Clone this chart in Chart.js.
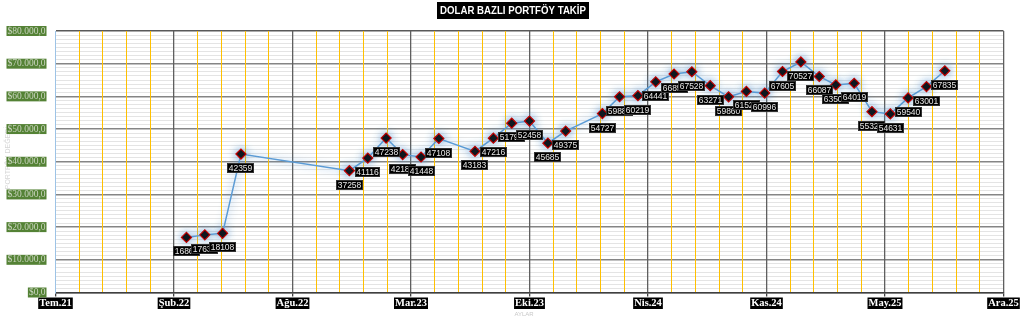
<!DOCTYPE html>
<html lang="tr">
<head>
<meta charset="utf-8">
<title>Dolar Bazlı Portföy Takip</title>
<script src="https://cdn.jsdelivr.net/npm/chart.js@4.4.1/dist/chart.umd.min.js"></script>
<style>
  html, body { margin: 0; padding: 0; background: #fff; overflow: hidden; }
</style>
</head>
<body>
<canvas id="portfolioChart" width="1021" height="318"></canvas>
<script>
// --- chart data -------------------------------------------------------
const chartTitle = 'DOLAR BAZLI PORTFÖY TAKİP';
const yAxisTitle = 'PORTFÖY DEĞERİ';
const xAxisTitle = 'AYLAR';

// one value per month (some months are missing in the sheet)
const months = [
  '2022-03', '2022-04', '2022-05', '2022-06',
  '2022-12', '2023-01', '2023-02', '2023-03', '2023-04', '2023-05',
  '2023-07', '2023-08', '2023-09', '2023-10', '2023-11', '2023-12',
  '2024-02', '2024-03', '2024-04', '2024-05', '2024-06', '2024-07',
  '2024-08', '2024-09', '2024-10', '2024-11', '2024-12',
  '2025-01', '2025-02', '2025-03', '2025-04', '2025-05', '2025-06',
  '2025-07', '2025-08', '2025-09'
];
const values = [
  16860, 17630, 18108, 42359,
  37258, 41116, 47238, 42180, 41448, 47108,
  43183, 47216, 51790, 52458, 45685, 49375,
  54727, 59880, 60219, 64441, 66850, 67528,
  63271, 59860, 61520, 60996, 67605,
  70527, 66087, 63500, 64019, 55320, 54631,
  59540, 63001, 67835
];

// date axis: Excel-style, major unit 200 days, minor 40 days
const axisStart = '2021-07-23';
const axisDays = 1600;
const majorDays = 200;
const minorDays = 40;
const xTickLabels = ['Tem.21', 'Şub.22', 'Ağu.22', 'Mar.23', 'Eki.23', 'Nis.24', 'Kas.24', 'May.25', 'Ara.25'];

const yMax = 80000;
const yMajor = 10000;
const yMinor = 1250;

// --- helpers ----------------------------------------------------------
const DAY = 86400000;
const startMs = Date.parse(axisStart + 'T00:00:00Z');

function dayIndex(ym) {
  const [y, m] = ym.split('-').map(Number);
  return Math.round((Date.UTC(y, m - 1, 1) - startMs) / DAY);
}

function formatMoney(v) {
  return '$' + String(v).replace(/\B(?=(\d{3})+(?!\d))/g, '.') + ',0';
}

const isMajorX = c => c.tick && c.tick.value % majorDays === 0;
const isMajorY = c => c.tick && c.tick.value % yMajor === 0;

// --- plugins ----------------------------------------------------------
const backdropPlugin = {
  id: 'backdrop',
  beforeDraw(chart) {
    const ctx = chart.ctx;
    ctx.save();
    ctx.fillStyle = '#ffffff';
    ctx.fillRect(0, 0, chart.width, chart.height);
    // faint vertical axis title (sits behind the green tick boxes)
    ctx.translate(8, 158);
    ctx.rotate(-Math.PI / 2);
    ctx.fillStyle = '#d6d6d6';
    ctx.font = '7px "Liberation Sans", Arial, sans-serif';
    ctx.textAlign = 'center';
    ctx.textBaseline = 'middle';
    ctx.fillText(yAxisTitle, 0, 0);
    ctx.restore();
  }
};

const glowPlugin = {
  id: 'glow',
  beforeDatasetDraw(chart) {
    const ctx = chart.ctx;
    ctx.save();
    ctx.shadowColor = 'rgba(91, 155, 213, 0.85)';
    ctx.shadowBlur = 8;
  },
  afterDatasetDraw(chart) {
    chart.ctx.restore();
  }
};

const valueLabels = {
  id: 'valueLabels',
  afterDatasetsDraw(chart) {
    const ctx = chart.ctx;
    const meta = chart.getDatasetMeta(0);
    ctx.save();
    ctx.font = '8.5px "Liberation Sans", Arial, sans-serif';
    ctx.textAlign = 'center';
    ctx.textBaseline = 'middle';
    meta.data.forEach((pt, i) => {
      const text = String(values[i]);
      const w = Math.round(ctx.measureText(text).width + 3);
      const h = 10;
      const left = Math.round(pt.x - w / 2);
      const top = Math.round(pt.y + 14 - h / 2);
      ctx.fillStyle = '#000000';
      ctx.fillRect(left, top, w, h);
      ctx.strokeStyle = '#333333';
      ctx.lineWidth = 1;
      ctx.strokeRect(left + 0.5, top + 0.5, w - 1, h - 1);
      ctx.fillStyle = '#e8e8e8';
      ctx.fillText(text, left + w / 2, top + h / 2 + 0.5);
    });
    ctx.restore();
  }
};

const titlePlugin = {
  id: 'boxTitle',
  afterDraw(chart) {
    const ctx = chart.ctx;
    ctx.save();
    // title in a black box
    ctx.font = 'bold 11.5px "Liberation Sans", Arial, sans-serif';
    const raw = ctx.measureText(chartTitle).width;
    const textW = 146;
    const sx = textW / raw;
    const cx = 513;
    ctx.fillStyle = '#000000';
    ctx.fillRect(cx - textW / 2 - 3, 2, textW + 6, 17);
    ctx.translate(cx, 11);
    ctx.scale(sx, 1);
    ctx.fillStyle = '#ffffff';
    ctx.textAlign = 'center';
    ctx.textBaseline = 'middle';
    ctx.fillText(chartTitle, 0, 0);
    ctx.restore();

    // faint horizontal axis title
    ctx.save();
    ctx.font = '6px "Liberation Sans", Arial, sans-serif';
    ctx.fillStyle = '#c8c8c8';
    ctx.textAlign = 'center';
    ctx.textBaseline = 'middle';
    ctx.fillText(xAxisTitle, 524, 314);
    ctx.restore();
  }
};

// --- chart ------------------------------------------------------------
const points = months.map((m, i) => ({ x: dayIndex(m), y: values[i] }));

new Chart(document.getElementById('portfolioChart'), {
  type: 'line',
  data: {
    datasets: [{
      label: 'Portföy',
      data: points,
      borderColor: '#5b9bd5',
      borderWidth: 1.5,
      tension: 0,
      fill: false,
      pointStyle: 'rectRot',
      pointRadius: 5,
      pointBackgroundColor: '#000000',
      pointBorderColor: '#c00000',
      pointBorderWidth: 1.2
    }]
  },
  options: {
    responsive: false,
    animation: false,
    devicePixelRatio: 1,
    layout: { padding: { top: 31, right: 17.5, left: 0, bottom: 0 } },
    plugins: {
      legend: { display: false },
      title: { display: false },
      tooltip: { enabled: false }
    },
    scales: {
      x: {
        type: 'linear',
        min: 0,
        max: axisDays,
        afterBuildTicks: s => {
          s.ticks = [];
          for (let d = 0; d <= axisDays; d += minorDays) s.ticks.push({ value: d });
        },
        afterFit: s => { s.height = 25.5; },
        grid: {
          z: -1,
          color: c => (c.tick && c.tick.value === 0) ? 'rgba(0,0,0,0)' : (isMajorX(c) ? '#5f5f5f' : '#ffc000'),
          lineWidth: c => isMajorX(c) ? 1.3 : 1,
          tickLength: 4,
          tickColor: c => isMajorX(c) ? '#404040' : 'rgba(0,0,0,0)'
        },
        border: { color: '#404040', width: 1.5 },
        ticks: {
          autoSkip: false,
          maxRotation: 0,
          minRotation: 0,
          padding: 2,
          callback: v => v % majorDays === 0 ? xTickLabels[v / majorDays] : '',
          color: '#ffffff',
          font: { family: '"Liberation Serif", "Times New Roman", serif', size: 10.5, weight: 'bold', lineHeight: 1 },
          showLabelBackdrop: c => isMajorX(c),
          backdropColor: '#000000',
          backdropPadding: { left: 1, right: 1, top: 1, bottom: 0 }
        }
      },
      y: {
        min: 0,
        max: yMax,
        afterBuildTicks: s => {
          s.ticks = [];
          for (let v = 0; v <= yMax; v += yMinor) s.ticks.push({ value: v });
        },
        afterFit: s => { s.width = 55.5; },
        grid: {
          z: -2,
          color: c => (c.tick && c.tick.value === yMax) ? '#595959' : (isMajorY(c) ? '#858585' : '#e4e4e4'),
          lineWidth: c => isMajorY(c) ? 1.5 : 1,
          drawTicks: false
        },
        border: { color: '#9dc3e6', width: 1 },
        ticks: {
          autoSkip: false,
          padding: 10,
          callback: v => v % yMajor === 0 ? formatMoney(v) : '',
          color: '#c9d4bf',
          font: { family: '"Liberation Serif", "Times New Roman", serif', size: 9.5, lineHeight: 1.05 },
          showLabelBackdrop: c => isMajorY(c),
          backdropColor: '#548235',
          backdropPadding: { left: 1, right: 1, top: 0, bottom: 0 }
        }
      }
    }
  },
  plugins: [backdropPlugin, glowPlugin, valueLabels, titlePlugin]
});
</script>
</body>
</html>
